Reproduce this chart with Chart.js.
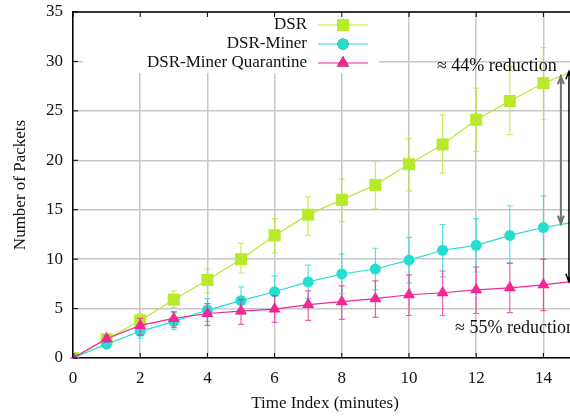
<!DOCTYPE html>
<html>
<head>
<meta charset="utf-8">
<script src="https://cdn.jsdelivr.net/npm/chart.js@4.4.0/dist/chart.umd.min.js"></script>
<style>
html, body { margin: 0; padding: 0; background: #fff; overflow: hidden; }
#wrap { width: 570px; height: 418px; overflow: hidden; }
</style>
</head>
<body>
<div id="wrap"><canvas id="myChart" width="600" height="418"></canvas></div>
<script>
const minutes = [0, 1, 2, 3, 4, 5, 6, 7, 8, 9, 10, 11, 12, 13, 14, 15];

const dsr     = [0, 1.9, 3.8, 5.9, 7.9, 10.0, 12.4, 14.5, 16.0, 17.5, 19.6, 21.6, 24.1, 26.0, 27.8, 29.2];
const dsrLow  = [0, 1.6, 3.1, 5.1, 6.6, 8.6, 10.6, 12.4, 13.8, 15.1, 16.9, 18.7, 20.9, 22.6, 24.1, 25.4];
const dsrHigh = [0, 2.2, 4.5, 6.8, 9.0, 11.6, 14.1, 16.3, 18.1, 19.9, 22.2, 24.6, 27.3, 29.5, 31.4, 33.0];

const miner     = [0, 1.4, 2.7, 3.7, 4.85, 5.8, 6.7, 7.7, 8.5, 9.0, 9.9, 10.9, 11.4, 12.4, 13.2, 13.8];
const minerLow  = [0, 1.0, 2.0, 2.9, 3.7, 4.4, 5.1, 6.0, 6.5, 6.9, 7.6, 8.2, 8.7, 9.6, 10.0, 10.4];
const minerHigh = [0, 1.8, 3.4, 4.6, 6.0, 7.2, 8.3, 9.4, 10.5, 11.1, 12.2, 13.5, 14.1, 15.4, 16.4, 17.2];

const quar     = [0, 1.95, 3.3, 4.0, 4.5, 4.75, 4.95, 5.4, 5.7, 6.0, 6.4, 6.6, 6.9, 7.1, 7.4, 7.8];
const quarLow  = [0, 1.6, 2.3, 3.1, 3.3, 3.4, 3.6, 3.8, 3.9, 4.1, 4.3, 4.3, 4.5, 4.6, 4.8, 5.0];
const quarHigh = [0, 2.3, 4.0, 4.7, 5.5, 5.9, 6.3, 6.8, 7.3, 7.8, 8.4, 8.8, 9.2, 9.6, 10.0, 10.4];

const xTicks = [0, 2, 4, 6, 8, 10, 12, 14];

const green = "rgb(182,234,42)";
const cyan = "rgb(36,222,210)";
const pink = "rgb(242,40,150)";

Chart.defaults.font.family = "'Liberation Serif', serif";
Chart.defaults.font.size = 17;
Chart.defaults.color = "#111";

function toPoints(ys) {
    return minutes.map((m, i) => ({ x: m, y: ys[i] }));
}

// error bars, drawn just before each dataset so later series sit on top
const errorBars = {
    id: "errorBars",
    beforeDatasetDraw(chart, args) {
        const ds = chart.data.datasets[args.index];
        const xs = chart.scales.x, ys = chart.scales.y;
        const c = chart.ctx;
        c.save();
        c.strokeStyle = ds.borderColor;
        c.globalAlpha = 0.75;
        c.lineWidth = 1.2;
        ds.low.forEach((lo, i) => {
            const px = xs.getPixelForValue(minutes[i]);
            const y1 = ys.getPixelForValue(lo);
            const y2 = ys.getPixelForValue(ds.high[i]);
            c.beginPath();
            c.moveTo(px, y1); c.lineTo(px, y2);
            c.moveTo(px - 3, y1); c.lineTo(px + 3, y1);
            c.moveTo(px - 3, y2); c.lineTo(px + 3, y2);
            c.stroke();
        });
        c.restore();
    }
};

// gnuplot-ish key box in the top-left
const keyBox = {
    id: "keyBox",
    beforeDatasetsDraw(chart) {
        const c = chart.ctx;
        const top = chart.chartArea.top;
        c.save();
        c.fillStyle = "#fff";
        c.fillRect(83, top + 1, 296, 60);
        c.font = "17px 'Liberation Serif', serif";
        c.textAlign = "right";
        c.textBaseline = "middle";
        chart.data.datasets.forEach((ds, i) => {
            const y = top + 13 + i * 19;
            c.fillStyle = "#111";
            c.fillText(ds.label, 307, y);
            c.strokeStyle = ds.borderColor;
            c.lineWidth = 1.2;
            c.beginPath(); c.moveTo(318, y); c.lineTo(368, y); c.stroke();
            Chart.helpers.drawPoint(c, {
                pointStyle: ds.pointStyle, radius: ds.pointRadius, borderWidth: 0, rotation: 0
            }, 343, y);
            c.fillStyle = ds.borderColor;
            c.fill();
        });
        c.restore();
    }
};

function arrow(c, x, yTop, yBot, color, width) {
    c.strokeStyle = color;
    c.lineWidth = width;
    c.beginPath();
    c.moveTo(x, yTop); c.lineTo(x, yBot);
    c.moveTo(x - 3, yTop + 8); c.lineTo(x, yTop); c.lineTo(x + 3, yTop + 8);
    c.moveTo(x - 3, yBot - 8); c.lineTo(x, yBot); c.lineTo(x + 3, yBot - 8);
    c.stroke();
}

const notes = {
    id: "notes",
    afterDraw(chart) {
        const c = chart.ctx;
        const xs = chart.scales.x, ys = chart.scales.y;
        const a = chart.chartArea;
        c.save();
        // top frame line and inward ticks
        c.strokeStyle = "#000";
        c.lineWidth = 1.5;
        c.beginPath(); c.moveTo(a.left, a.top); c.lineTo(a.right, a.top); c.stroke();
        c.lineWidth = 1;
        c.beginPath();
        xTicks.forEach(v => {
            const px = xs.getPixelForValue(v);
            c.moveTo(px, a.bottom); c.lineTo(px, a.bottom - 5);
            c.moveTo(px, a.top); c.lineTo(px, a.top + 5);
        });
        ys.ticks.forEach(t => {
            const py = ys.getPixelForValue(t.value);
            c.moveTo(a.left, py); c.lineTo(a.left + 5, py);
        });
        c.stroke();

        arrow(c, xs.getPixelForValue(14.52), ys.getPixelForValue(28.5), ys.getPixelForValue(13.6), "#707070", 2);
        arrow(c, xs.getPixelForValue(14.76), ys.getPixelForValue(29.0), ys.getPixelForValue(7.7), "#000", 1.5);

        c.fillStyle = "#111";
        c.font = "18px 'Liberation Serif', serif";
        c.textAlign = "left";
        c.textBaseline = "middle";
        c.fillText("\u2248 44% reduction", xs.getPixelForValue(10.83), ys.getPixelForValue(29.5));
        c.fillText("\u2248 55% reduction", xs.getPixelForValue(11.37), ys.getPixelForValue(3.0));
        c.restore();
    }
};

const data = {
    datasets: [{
        label: "DSR",
        data: toPoints(dsr),
        low: dsrLow,
        high: dsrHigh,
        borderColor: green,
        backgroundColor: green,
        pointStyle: "rect",
        pointRadius: 8.5,
        order: 3,
    }, {
        label: "DSR-Miner",
        data: toPoints(miner),
        low: minerLow,
        high: minerHigh,
        borderColor: cyan,
        backgroundColor: cyan,
        pointStyle: "circle",
        pointRadius: 5.5,
        order: 2,
    }, {
        label: "DSR-Miner Quarantine",
        data: toPoints(quar),
        low: quarLow,
        high: quarHigh,
        borderColor: pink,
        backgroundColor: pink,
        pointStyle: "triangle",
        pointRadius: 7,
        order: 1,
    }],
};

const config = {
    type: "line",
    data: data,
    plugins: [errorBars, keyBox, notes],
    options: {
        responsive: false,
        animation: false,
        layout: { padding: { left: 0, right: 23, top: 12, bottom: 0 } },
        elements: {
            line: { borderWidth: 1.2, tension: 0 },
            point: { borderWidth: 0, hoverRadius: 0 },
        },
        plugins: { legend: { display: false }, tooltip: { enabled: false } },
        scales: {
            x: {
                type: "linear",
                min: 0,
                max: 15,
                afterFit: s => { s.height = 60; s.paddingLeft = 0; s.paddingRight = 0; },
                afterBuildTicks: s => { s.ticks = xTicks.map(v => ({ value: v })); },
                grid: { color: "#c8c8c8", lineWidth: 1.5, drawTicks: false },
                border: { color: "#000", width: 1.5 },
                ticks: { padding: 10, maxRotation: 0 },
                title: { display: true, text: "Time Index (minutes)", padding: { top: 0, bottom: 4 } },
            },
            y: {
                min: 0,
                max: 35,
                afterFit: s => { s.width = 73; s.paddingTop = 0; s.paddingBottom = 0; },
                grid: { color: "#c8c8c8", lineWidth: 1.5, drawTicks: false },
                border: { color: "#000", width: 1.5 },
                ticks: { stepSize: 5, padding: 10 },
                title: { display: true, text: "Number of Packets", padding: { top: 10, bottom: 0 } },
            },
        },
    },
};

const myChart = new Chart(document.getElementById("myChart"), config);
</script>
</body>
</html>
